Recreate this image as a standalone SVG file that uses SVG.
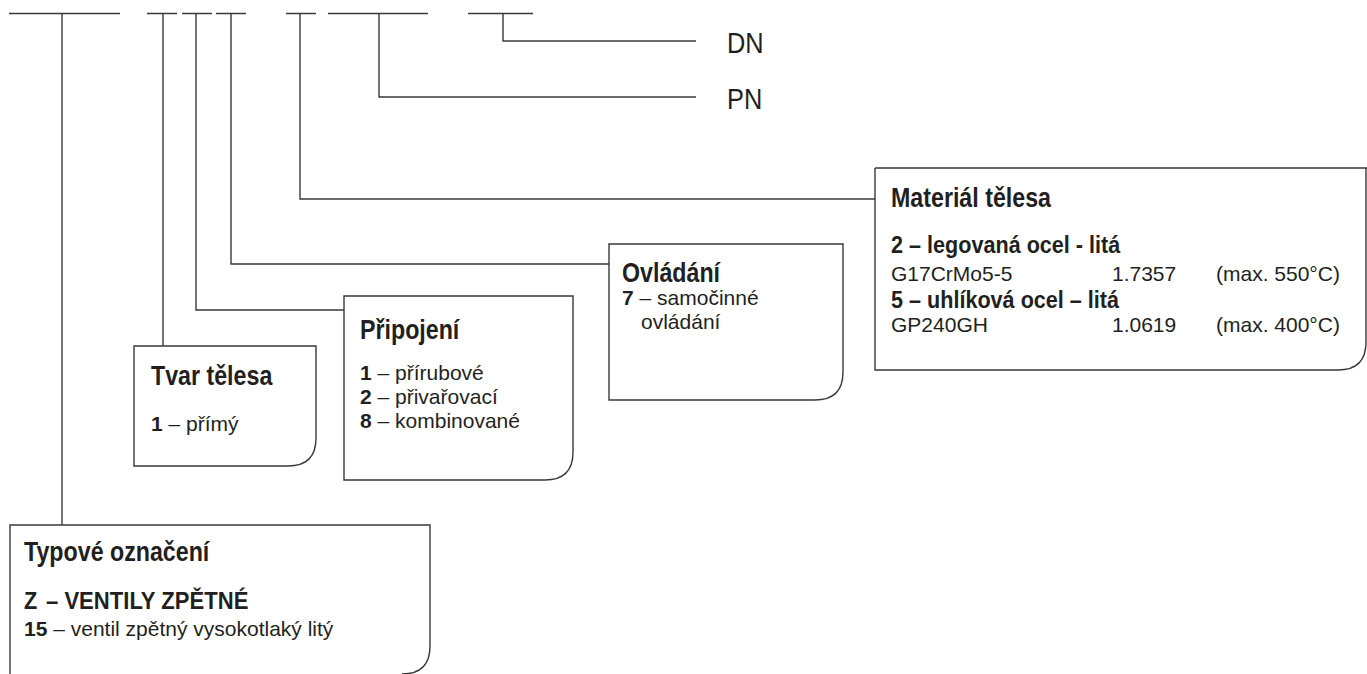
<svg xmlns="http://www.w3.org/2000/svg" width="1367" height="674" viewBox="0 0 1367 674">
<style>
.ln{fill:none;stroke:#3a3a3a;stroke-width:1.4}
.bx{fill:#fff;stroke:#3a3a3a;stroke-width:1.4}
text{font-family:"Liberation Sans",Arial,sans-serif;fill:#231f20}
.t{font-size:27px;font-weight:bold}
.i{font-size:24px;font-weight:bold}
.r{font-size:21px}
.b{font-weight:bold}
.lbl{font-size:29px}
</style>
<rect width="1367" height="674" fill="#fff"/>
<g id="connectors">
<path class="ln" d="M9 13.5H120M147 13.5H177M182 13.5H212M216 13.5H246M286 13.5H316M328 13.5H428M468 13.5H533"/>
<path class="ln" d="M62 13.5V525"/>
<path class="ln" d="M163 13.5V346"/>
<path class="ln" d="M196 13.5V310H344"/>
<path class="ln" d="M231 13.5V264H609"/>
<path class="ln" d="M300 13.5V199H875"/>
<path class="ln" d="M379 13.5V97H696"/>
<path class="ln" d="M503 13.5V41H696"/>
</g>
<g id="dn"><text class="lbl" transform="translate(727 53.4) scale(.875 1)">DN</text></g>
<g id="pn"><text class="lbl" transform="translate(727 109.4) scale(.875 1)">PN</text></g>
<g id="material">
<path class="bx" d="M875 168H1367M1366 168V342Q1366 370 1338 370H875V168"/>
<text class="t" transform="translate(891 206.5) scale(.86 1)">Materiál tělesa</text>
<text class="i" transform="translate(891 252.5) scale(.9 1)">2 – legovaná ocel - litá</text>
<text class="r" x="891" y="281">G17CrMo5-5</text>
<text class="r" x="1112" y="281">1.7357</text>
<text class="r" x="1216" y="281">(max. 550°C)</text>
<text class="i" transform="translate(891 307.5) scale(.9 1)">5 – uhlíková ocel – litá</text>
<text class="r" x="891" y="332">GP240GH</text>
<text class="r" x="1112" y="332">1.0619</text>
<text class="r" x="1216" y="332">(max. 400°C)</text>
</g>
<g id="ovladani">
<path class="bx" d="M609 244H843V372Q843 400 815 400H609Z"/>
<text class="t" transform="translate(622 281.5) scale(.86 1)">Ovládání</text>
<text class="r" x="622" y="305"><tspan class="b">7</tspan> – samočinné</text>
<text class="r" x="641" y="329">ovládání</text>
</g>
<g id="pripojeni">
<path class="bx" d="M344 296H573V452Q573 480 545 480H344Z"/>
<text class="t" transform="translate(360 338.5) scale(.86 1)">Připojení</text>
<text class="r" x="360" y="380.3"><tspan class="b">1</tspan> – přírubové</text>
<text class="r" x="360" y="404"><tspan class="b">2</tspan> – přivařovací</text>
<text class="r" x="360" y="428"><tspan class="b">8</tspan> – kombinované</text>
</g>
<g id="tvar">
<path class="bx" d="M134 346H316V438Q316 466 288 466H134Z"/>
<text class="t" transform="translate(151 384.5) scale(.86 1)">Tvar tělesa</text>
<text class="r" x="151" y="430.7"><tspan class="b">1</tspan> – přímý</text>
</g>
<g id="typove">
<path class="bx" d="M10 674V525H430V646Q430 674 402 674"/>
<text class="t" transform="translate(24 560.5) scale(.86 1)">Typové označení</text>
<text class="i" transform="translate(24 608.8) scale(.9 1)">Z</text>
<text class="i" transform="translate(46 608.8) scale(.92 1)">– VENTILY ZPĚTNÉ</text>
<text class="r" x="24" y="635.7"><tspan class="b">15</tspan> – ventil zpětný vysokotlaký litý</text>
</g>
</svg>
